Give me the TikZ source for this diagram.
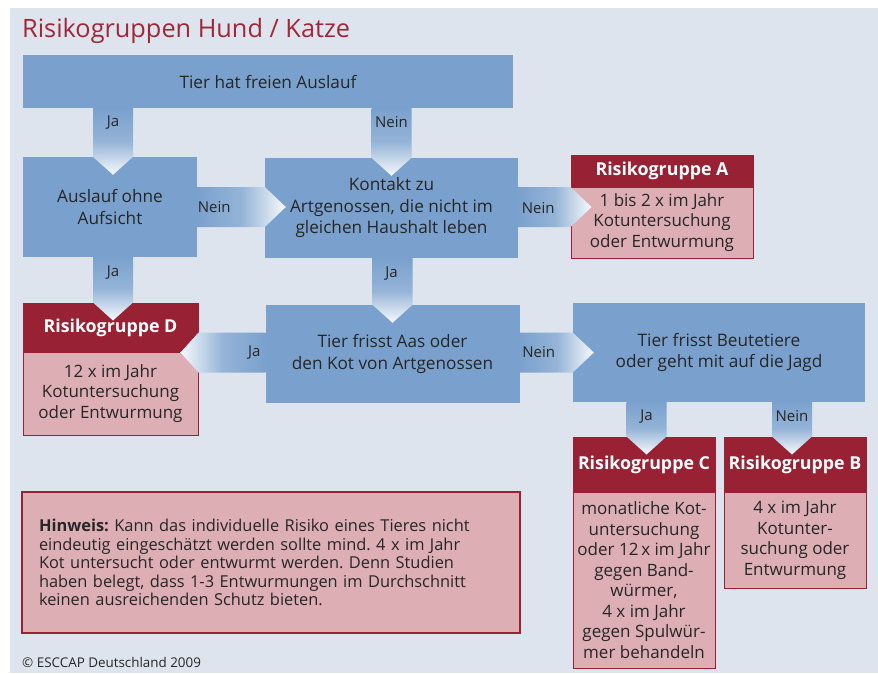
\documentclass[tikz,border=0pt]{standalone}
\usepackage{fontspec}
\setmainfont{Open Sans}
\usetikzlibrary{calc}
\frenchspacing
\definecolor{bgc}{RGB}{222,228,238}
\definecolor{bblue}{RGB}{122,161,205}
\definecolor{dred}{RGB}{152,33,52}
\definecolor{pinkc}{RGB}{221,175,181}
\definecolor{tred}{RGB}{163,38,56}
\definecolor{txtc}{RGB}{38,38,38}
% vertical connector: source, target, x offset relative to target.north
\newcommand\vconn[3]{%
  \path[vgrad] ($(#1.south -| #2.north)+(#3-20,0)$) -- ($(#2.north)+(#3-20,0)$) -- ($(#2.north)+(#3,18)$) -- ($(#2.north)+(#3+20,0)$) -- ($(#1.south -| #2.north)+(#3+20,0)$) -- cycle;}
% horizontal connector pointing right: source, target, y offset relative to source.east
\newcommand\hconnR[3]{%
  \path[hgradR] ($(#1.east)+(0,#3-20)$) -- ($(#2.west |- #1.east)+(0,#3-20)$) -- ($(#2.west |- #1.east)+(21,#3)$) -- ($(#2.west |- #1.east)+(0,#3+20)$) -- ($(#1.east)+(0,#3+20)$) -- cycle;}
% horizontal connector pointing left
\newcommand\hconnL[3]{%
  \path[hgradL] ($(#1.west)+(0,#3-20)$) -- ($(#2.east |- #1.west)+(0,#3-20)$) -- ($(#2.east |- #1.west)+(-18,#3)$) -- ($(#2.east |- #1.west)+(0,#3+20)$) -- ($(#1.west)+(0,#3+20)$) -- cycle;}
\begin{document}
\begin{tikzpicture}[x=1pt,y=-1pt,
  bbox/.style={fill=bblue, draw=none, inner sep=0pt, align=center, text=txtc,
    font=\fontsize{17.2}{21.5}\selectfont},
  rhead/.style={fill=dred, draw=dred, line width=1pt, inner sep=0pt, text=white,
    font=\fontsize{17.8}{20}\selectfont\bfseries},
  rbody/.style={fill=pinkc, draw=dred, line width=1pt, inner sep=0pt, align=center, text=txtc,
    font=\fontsize{17}{20.5}\selectfont},
  lab/.style={font=\fontsize{15}{16}\selectfont, text=txtc, inner sep=0pt},
  vgrad/.style={top color=bblue, bottom color=white!94!bblue, middle color=bblue!80!white},
  hgradR/.style={left color=bblue, right color=white!94!bblue, middle color=bblue!80!white},
  hgradL/.style={right color=bblue, left color=white!94!bblue, middle color=bblue!80!white}]
\useasboundingbox (0,0) rectangle (878,673);
\fill[white] (0,0) rectangle (878,673);
\fill[bgc] (10,8) rectangle (878,673);

\node[anchor=base west, text=tred, inner sep=0pt, font=\fontsize{25.3}{30}\selectfont] (title) at (22,37) {Risikogruppen Hund / Katze};

% decision boxes
\node[bbox, minimum width=490pt, minimum height=53pt] (top) at (268,81.5) {Tier hat freien Auslauf};
\node[bbox, minimum width=174pt, minimum height=100pt] (aus) at (110,207) {Auslauf ohne\\Aufsicht};
\node[bbox, minimum width=253pt, minimum height=100pt] (kon) at (391.5,208) {Kontakt zu\\Artgenossen, die nicht im\\gleichen Haushalt leben};
\node[bbox, minimum width=254pt, minimum height=98pt] (aas) at (392.5,354) {Tier frisst Aas oder\\den Kot von Artgenossen};
\node[bbox, minimum width=292pt, minimum height=99pt] (beu) at (719,352.5) {Tier frisst Beutetiere\\oder geht mit auf die Jagd};

% risk groups
\node[rbody, minimum width=182pt, minimum height=71pt] (Abody) at (662,222.5) {1 bis 2 x im Jahr\\Kotuntersuchung\\oder Entwurmung};
\node[rhead, minimum width=182pt, minimum height=32pt] (Ahead) at (662,171) {Risikogruppe A};
\node[rbody, minimum width=175pt, minimum height=83pt] (Dbody) at (110.5,393.5) {12 x im Jahr\\Kotuntersuchung\\oder Entwurmung};
\node[rhead, minimum width=175pt, minimum height=49pt] (Dhead) at (110.5,327.5) {\raisebox{-2pt}{Risikogruppe D}};
\node[rbody, minimum width=142pt, minimum height=176pt] (Cbody) at (644,580) {monatliche Kot-\\untersuchung\\oder 12\,x im Jahr\\gegen Band-\\würmer,\\4 x im Jahr\\gegen Spulwür-\\mer behandeln};
\node[rhead, minimum width=142pt, minimum height=55pt] (Chead) at (644,464.5) {\raisebox{-5pt}{Risikogruppe C}};
\node[rbody, minimum width=142pt, minimum height=96pt] (Bbody) at (795,540) {4 x im Jahr\\Kotunter-\\suchung oder\\Entwurmung};
\node[rhead, minimum width=142pt, minimum height=55pt] (Bhead) at (795,464.5) {\raisebox{-5pt}{Risikogruppe B}};

% note
\node[fill=pinkc, draw=dred, line width=1.2pt, minimum width=498pt, minimum height=141pt,
  inner xsep=17pt, text width=464pt, align=left, text=txtc,
  font=\fontsize{16.4}{18.4}\selectfont] (note) at (271,562.5)
  {\textbf{Hinweis:} Kann das individuelle Risiko eines Tieres nicht\\eindeutig eingeschätzt werden sollte mind. 4 x im Jahr\\Kot untersucht oder entwurmt werden. Denn Studien\\haben belegt, dass 1-3 Entwurmungen im Durchschnitt\\keinen ausreichenden Schutz bieten.};

\node[anchor=base west, inner sep=0pt, text=txtc, font=\fontsize{13.4}{15}\selectfont] (copy) at (22,667) {© ESCCAP Deutschland 2009};

% connectors
\vconn{top}{aus}{3}
\vconn{top}{kon}{0}
\hconnR{aus}{kon}{0}
\hconnR{kon}{Abody}{-1}
\vconn{aus}{Dhead}{2.5}
\vconn{kon}{aas}{0}
\hconnL{aas}{Dbody}{-1.5}
\hconnR{aas}{beu}{-1.5}
\vconn{beu}{Chead}{2.5}
\vconn{beu}{Bhead}{-3}

% connector labels
\node[lab] (l1) at ($(top.south -| aus.north)+(3,14)$) {Ja};
\node[lab] (l2) at ($(top.south -| kon.north)+(0,14)$) {Nein};
\node[lab] (l3) at ($(aus.east)+(17,0)$) {Nein};
\node[lab] (l4) at ($(kon.east)+(20,0)$) {Nein};
\node[lab] (l5) at ($(aus.south)+(3,15)$) {Ja};
\node[lab] (l6) at ($(kon.south)+(0,15)$) {Ja};
\node[lab] (l7) at ($(aas.west)+(-11,-1.5)$) {Ja};
\node[lab] (l8) at ($(aas.east)+(19,-1.5)$) {Nein};
\node[lab] (l9) at ($(beu.south -| Chead.north)+(2.5,14)$) {Ja};
\node[lab] (l10) at ($(beu.south -| Bhead.north)+(-3,14)$) {Nein};
\end{tikzpicture}
\end{document}
